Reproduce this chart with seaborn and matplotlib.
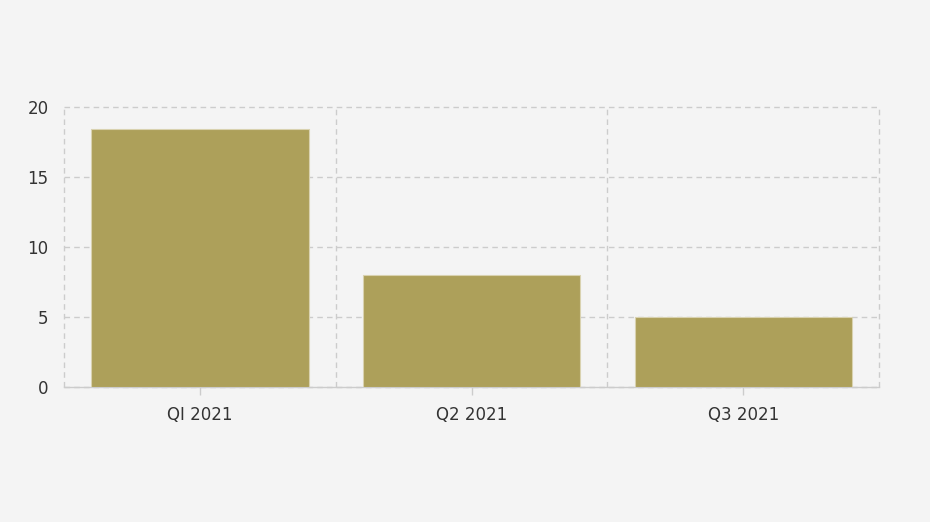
import matplotlib
matplotlib.use("Agg")
import matplotlib.pyplot as plt
import seaborn as sns
import pandas as pd

categories = ["QI 2021", "Q2 2021", "Q3 2021"]
values = [18.4, 8.0, 5.0]

sns.set_theme(style="white")
plt.rcParams['font.family'] = ['DejaVu Sans']

bg = "#f4f4f4"
fig = plt.figure(figsize=(9.3, 5.22), dpi=100, facecolor=bg)
ax = fig.add_axes([64/930, 1-387/522, (879-64)/930, (387-107)/522])
ax.set_facecolor(bg)

df = pd.DataFrame({"cat": categories, "val": values})
sns.barplot(data=df, x="cat", y="val", color="#ada05a", saturation=1,
            width=0.8, edgecolor="#d9d2b0", linewidth=0.8, ax=ax, zorder=3)

ax.set_xlim(-0.5, len(categories) - 0.5)
ax.set_ylim(0, 20)
ax.set_yticks([0, 5, 10, 15, 20])
ax.set_xlabel("")
ax.set_ylabel("")

ax.set_xticks([i - 0.5 for i in range(len(categories) + 1)], minor=True)
ax.grid(False)
ax.yaxis.grid(True, which="major", color="#cccccc", linestyle=(0, (4, 3)), linewidth=1, zorder=0)
ax.xaxis.grid(True, which="minor", color="#cccccc", linestyle=(0, (4, 3)), linewidth=1, zorder=0)
ax.set_axisbelow(True)
for t in ax.xaxis.get_minor_ticks() + ax.yaxis.get_major_ticks():
    t.gridline.set_clip_on(False)

for s in ["top", "right", "left"]:
    ax.spines[s].set_visible(False)
ax.spines["bottom"].set_color("#cccccc")
ax.spines["bottom"].set_linewidth(1)

ax.tick_params(axis="x", which="major", length=6, color="#cccccc", width=1,
               labelsize=12, labelcolor="#333333", pad=8, bottom=True)
ax.tick_params(axis="x", which="minor", length=0)
ax.tick_params(axis="y", length=0, labelsize=12, labelcolor="#333333", pad=11, left=False)

fig.savefig("out.png", dpi=100, facecolor=bg)
